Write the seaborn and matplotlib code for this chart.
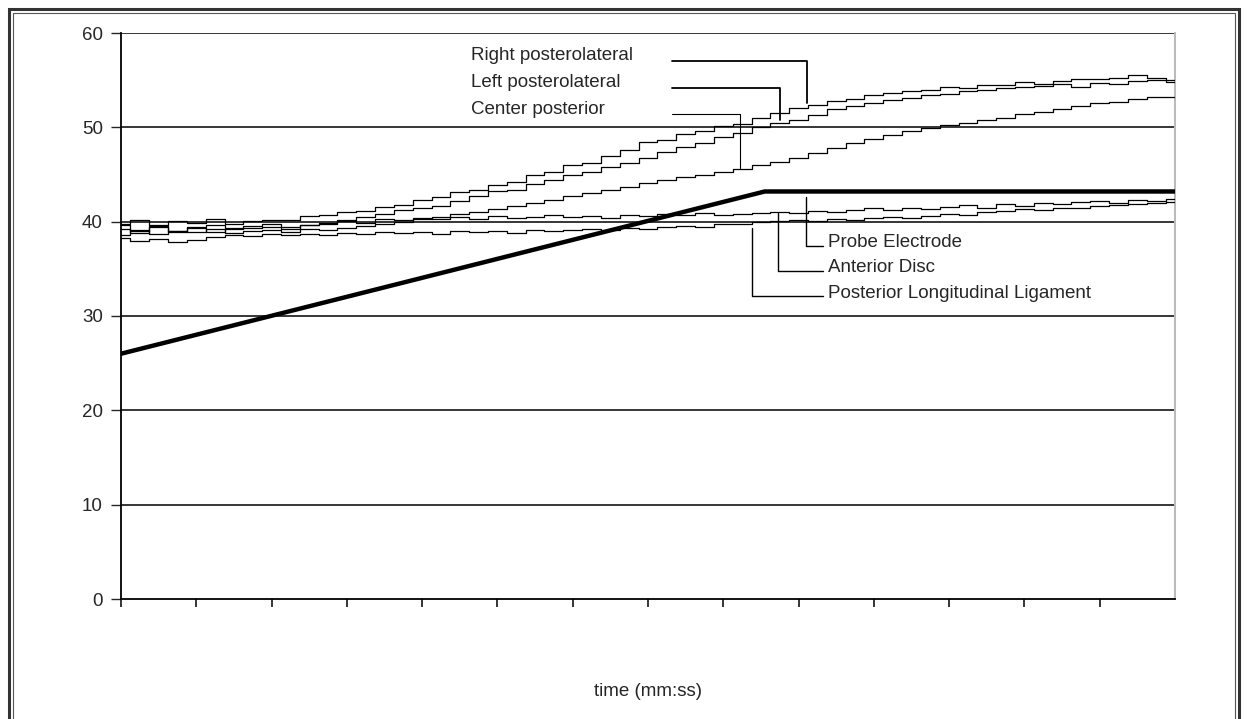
import matplotlib
matplotlib.use("Agg")
import matplotlib.pyplot as plt
import numpy as np
import pandas as pd
import seaborn as sns
from matplotlib.patches import Rectangle

# time axis in tick units (14 intervals, no tick labels in the original)
t = [i * 0.25 for i in range(57)]

right_pl = [39.8, 40.2, 39.6, 40.1, 39.9, 40.3, 39.8, 40.1, 40.2, 40.2, 40.6, 40.7, 41.0, 41.1,
            41.6, 41.8, 42.3, 42.6, 43.1, 43.4, 43.9, 44.2, 44.9, 45.3, 46.0, 46.2, 47.0, 47.6,
            48.4, 48.7, 49.3, 49.6, 50.1, 50.4, 51.0, 51.5, 52.0, 52.4, 52.8, 53.0, 53.4, 53.6,
            53.9, 54.0, 54.3, 54.2, 54.5, 54.5, 54.8, 54.6, 54.9, 55.1, 55.1, 55.2, 55.5, 55.2, 55.0]
left_pl = [39.2, 38.8, 39.4, 39.0, 39.3, 38.9, 39.2, 39.3, 39.4, 39.2, 39.6, 39.9, 40.2, 40.5,
           40.8, 41.2, 41.5, 41.7, 42.2, 42.7, 43.2, 43.4, 44.0, 44.4, 44.9, 45.3, 45.8, 46.2,
           46.8, 47.4, 47.9, 48.3, 49.0, 49.4, 50.0, 50.5, 50.8, 51.3, 51.9, 52.3, 52.6, 52.9,
           53.1, 53.4, 53.5, 53.8, 54.0, 54.2, 54.3, 54.4, 54.6, 54.3, 54.7, 54.6, 54.9, 55.0, 54.8]
center_post = [38.6, 39.1, 38.7, 39.0, 38.9, 39.2, 38.8, 39.0, 39.1, 38.9, 39.2, 39.1, 39.3, 39.5,
               39.8, 40.0, 40.3, 40.5, 40.8, 41.0, 41.3, 41.7, 42.0, 42.3, 42.7, 43.0, 43.4, 43.7,
               44.1, 44.4, 44.7, 45.0, 45.3, 45.6, 46.0, 46.3, 46.8, 47.3, 47.8, 48.3, 48.8, 49.2,
               49.6, 49.9, 50.2, 50.5, 50.8, 51.0, 51.4, 51.6, 51.9, 52.3, 52.6, 52.7, 53.0, 53.2, 53.2]
anterior_disc = [39.6, 39.0, 39.5, 38.9, 39.4, 39.6, 39.3, 39.5, 39.7, 39.4, 39.6, 39.8, 40.1, 39.9,
                 40.3, 40.2, 40.4, 40.3, 40.5, 40.3, 40.6, 40.4, 40.5, 40.7, 40.5, 40.6, 40.4, 40.7,
                 40.6, 40.8, 40.7, 40.9, 40.7, 40.8, 40.9, 41.0, 40.9, 41.1, 41.0, 41.2, 41.4, 41.2,
                 41.5, 41.3, 41.6, 41.8, 41.5, 41.9, 41.7, 42.0, 41.9, 42.1, 42.2, 42.0, 42.3, 42.2, 42.4]
pll = [38.3, 37.9, 38.2, 37.8, 38.1, 38.4, 38.6, 38.5, 38.7, 38.6, 38.7, 38.6, 38.8, 38.7,
       38.9, 38.8, 38.9, 38.7, 39.0, 38.9, 39.0, 38.8, 39.1, 39.0, 39.1, 39.2, 39.1, 39.3,
       39.2, 39.4, 39.5, 39.4, 39.7, 39.8, 40.0, 40.1, 40.2, 40.1, 40.3, 40.2, 40.4, 40.5,
       40.4, 40.6, 40.8, 40.7, 41.0, 41.1, 41.3, 41.2, 41.5, 41.4, 41.7, 41.8, 41.9, 42.0, 42.1]

probe_t = [0, 8.55, 14]
probe = [26.0, 43.2, 43.2]

yticks = [0, 10, 20, 30, 40, 50, 60]

sns.set_style("white")
plt.rcParams['font.family'] = ['Liberation Sans', 'DejaVu Sans']

fig = plt.figure(figsize=(12.48, 7.19), dpi=100)
ax = fig.add_axes([121 / 1248, 1 - 599 / 719, (1175 - 121) / 1248, (599 - 33) / 719])

# horizontal grid lines
for v in yticks[1:]:
    ax.axhline(v, color='black', lw=1.1, zorder=1)

wiggly = pd.DataFrame({
    't': t * 5,
    'value': right_pl + left_pl + center_post + anterior_disc + pll,
    'series': (['Right posterolateral'] * 57 + ['Left posterolateral'] * 57 + ['Center posterior'] * 57
               + ['Anterior Disc'] * 57 + ['Posterior Longitudinal Ligament'] * 57),
})
sns.lineplot(data=wiggly, x='t', y='value', units='series', estimator=None, color='black',
             lw=0.9, drawstyle='steps-mid', legend=False, ax=ax, zorder=3)
sns.lineplot(x=probe_t, y=probe, color='black', lw=3.2, ax=ax, zorder=4)

ax.set_xlim(0, 14)
ax.set_ylim(0, 60)
ax.set_yticks(yticks)
ax.set_xticks(range(14))
ax.set_xticklabels([])
ax.tick_params(axis='y', direction='out', length=7, width=1, labelsize=13.5, pad=6, left=True)
ax.tick_params(axis='x', direction='out', length=6, width=1.3, bottom=True)
for s in ['left', 'bottom']:
    ax.spines[s].set_color('black')
    ax.spines[s].set_linewidth(1.3)
ax.spines['top'].set_visible(False)
ax.spines['right'].set_color('#bbbbbb')
ax.spines['right'].set_linewidth(1.5)
ax.set_xlabel('time (mm:ss)', fontsize=13.5, labelpad=51)
ax.set_ylabel('')

# leader labels (Excel-style callouts)
fs = 13.5
ax.text(4.65, 57.6, 'Right posterolateral', fontsize=fs, va='center', ha='left')
ax.plot([7.32, 9.11, 9.11], [57.05, 57.05, 52.6], color='black', lw=1.3)
ax.text(4.65, 54.7, 'Left posterolateral', fontsize=fs, va='center', ha='left')
ax.plot([7.32, 8.75, 8.75], [54.2, 54.2, 50.8], color='black', lw=1.3)
ax.text(4.65, 51.9, 'Center posterior', fontsize=fs, va='center', ha='left')
ax.plot([7.32, 8.22, 8.22], [51.4, 51.4, 45.7], color='black', lw=0.8)

ax.text(9.39, 37.8, 'Probe Electrode', fontsize=fs, va='center', ha='left')
ax.plot([9.1, 9.1, 9.32], [42.6, 37.4, 37.4], color='black', lw=1.0)
ax.text(9.39, 35.1, 'Anterior Disc', fontsize=fs, va='center', ha='left')
ax.plot([8.73, 8.73, 9.32], [40.9, 34.8, 34.8], color='black', lw=1.0)
ax.text(9.39, 32.4, 'Posterior Longitudinal Ligament', fontsize=fs, va='center', ha='left')
ax.plot([8.38, 8.38, 9.32], [39.3, 32.1, 32.1], color='black', lw=1.0)

# double page frame around the chart
fig.patches.append(Rectangle((9 / 1248, -0.05), (1239 - 9) / 1248, 1 - 9 / 719 + 0.05,
                             transform=fig.transFigure, fill=False, ec='#333333', lw=2.2))
fig.patches.append(Rectangle((13 / 1248, -0.05), (1235 - 13) / 1248, 1 - 13 / 719 + 0.05,
                             transform=fig.transFigure, fill=False, ec='#555555', lw=0.8))

plt.savefig('out.png', dpi=100)
